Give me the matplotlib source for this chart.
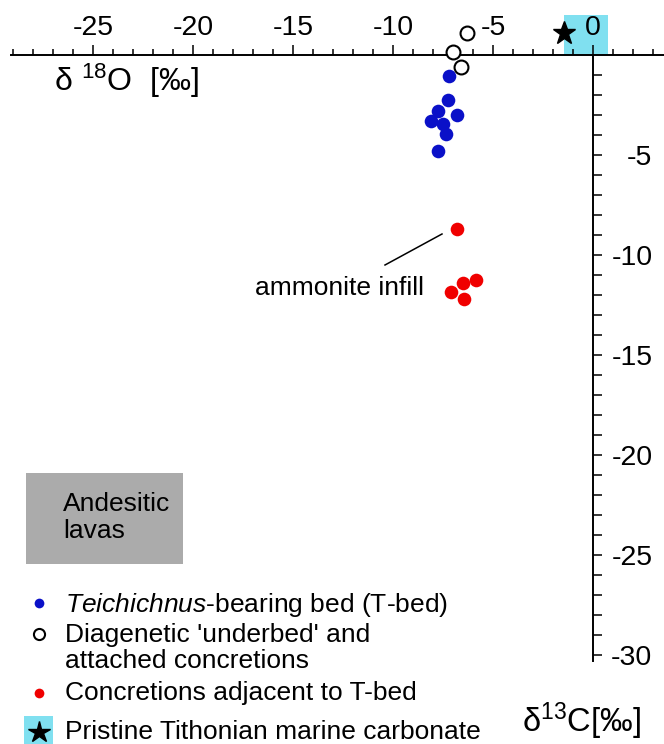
import numpy as np
import matplotlib
matplotlib.use("Agg")
import matplotlib.pyplot as plt
from matplotlib.patches import Rectangle

plt.rcParams["font.family"] = "Liberation Sans"
plt.rcParams["mathtext.fontset"] = "custom"
plt.rcParams["mathtext.rm"] = "Liberation Sans"
plt.rcParams["mathtext.it"] = "Liberation Sans:italic"
plt.rcParams["axes.unicode_minus"] = False

# Data (x = d18O, y = d13C, per mil)
tbed_d18o = [-7.2, -7.25, -7.75, -6.8, -8.1, -7.5, -7.35, -7.75]
tbed_d13c = [-1.05, -2.25, -2.8, -3.0, -3.3, -3.45, -3.95, -4.8]

underbed_d18o = [-6.3, -7.0, -6.6]
underbed_d13c = [1.1, 0.15, -0.6]

adjacent_d18o = [-6.8, -5.85, -6.5, -7.1, -6.45]
adjacent_d13c = [-8.7, -11.25, -11.4, -11.85, -12.2]

pristine_d18o = [-1.45]
pristine_d13c = [1.1]

x_ticks = [-25, -20, -15, -10, -5, 0]
y_ticks = [-5, -10, -15, -20, -25, -30]

BLUE = "#0a10c8"
RED = "#f00000"
CYAN = "#80e0f0"
GREY = "#ababab"

fig = plt.figure(figsize=(6.64, 7.44), dpi=100)
ax = fig.add_axes([0, 0, 1, 1])
ax.set_xlim(-29.65, 3.55)
ax.set_ylim(-34.45, 2.75)

# Axes through the origin
for side in ["left", "bottom"]:
    ax.spines[side].set_visible(False)
ax.spines["top"].set_position(("data", 0))
ax.spines["top"].set_bounds(-29.1, 3.55)
ax.spines["right"].set_position(("data", 0))
ax.spines["right"].set_bounds(-30.3, 0)
for side in ["top", "right"]:
    ax.spines[side].set_linewidth(1.4)
    ax.spines[side].set_zorder(3)

ax.xaxis.tick_top()
ax.yaxis.tick_right()
ax.set_xticks(x_ticks, [str(v) for v in x_ticks])
ax.set_xticks(np.arange(-29, 4), minor=True)
ax.set_yticks(y_ticks, [str(v) for v in y_ticks])
ax.set_yticks(np.arange(-30, 0), minor=True)
ax.tick_params(axis="x", which="major", direction="out", length=7.2, width=1.1, pad=3, labelsize=20.5)
ax.tick_params(axis="x", which="minor", direction="out", length=4.3, width=1.1)
ax.tick_params(axis="y", which="both", direction="out", length=6.3, width=1.1)
ax.tick_params(axis="y", which="major", pad=36.5, labelsize=20.5)
for lab in ax.get_yticklabels():
    lab.set_horizontalalignment("right")

# Pristine marine carbonate field
ax.add_patch(Rectangle((-1.45, 0), 2.2, 2.0, facecolor=CYAN, edgecolor="none", zorder=1))

# Data points
ax.plot(tbed_d18o, tbed_d13c, "o", color=BLUE, markersize=9.8, markeredgewidth=0, zorder=4)
ax.plot(underbed_d18o, underbed_d13c, "o", markerfacecolor="white", markeredgecolor="black",
        markersize=10, markeredgewidth=1.5, zorder=4)
ax.plot(adjacent_d18o, adjacent_d13c, "o", color=RED, markersize=9.8, markeredgewidth=0, zorder=4)
ax.plot(pristine_d18o, pristine_d13c, "*", color="black", markersize=17, zorder=4)

# Annotation
ax.plot([-10.4, -7.55], [-10.5, -8.95], color="black", linewidth=1.1)
ax.text(-16.9, -11.65, "ammonite infill", fontsize=19, ha="left", va="center")

# Axis titles
ax.text(-26.95, -1.3, "δ $^{18}$O  [‰]", fontsize=23, ha="left", va="center")
ax.text(-3.55, -33.3, "δ$^{13}$C[‰]", fontsize=23.5, ha="left", va="center")

# Andesitic lavas box
ax.add_patch(Rectangle((-28.35, -25.45), 7.85, 4.55, facecolor=GREY, edgecolor="none"))
ax.text(-26.5, -22.45, "Andesitic", fontsize=19, ha="left", va="center")
ax.text(-26.5, -23.8, "lavas", fontsize=19, ha="left", va="center")

# Legend
leg_x = -27.7
txt_x = -26.4
ax.plot(leg_x, -27.4, "o", color=BLUE, markersize=7, markeredgewidth=0)
ax.text(txt_x, -27.5, "$\\mathit{Teichichnus}$-bearing bed (T-bed)", fontsize=19, ha="left", va="center")
ax.plot(leg_x, -28.95, "o", markerfacecolor="white", markeredgecolor="black", markersize=8, markeredgewidth=1.5)
ax.text(txt_x, -29.0, "Diagenetic 'underbed' and", fontsize=19, ha="left", va="center")
ax.text(txt_x, -30.3, "attached concretions", fontsize=19, ha="left", va="center")
ax.plot(leg_x, -31.9, "o", color=RED, markersize=7, markeredgewidth=0)
ax.text(txt_x, -31.9, "Concretions adjacent to T-bed", fontsize=19, ha="left", va="center")
ax.add_patch(Rectangle((-28.45, -34.6), 1.45, 1.55, facecolor=CYAN, edgecolor="none"))
ax.plot(leg_x, -33.85, "*", color="black", markersize=16)
ax.text(txt_x, -33.85, "Pristine Tithonian marine carbonate", fontsize=19, ha="left", va="center")

fig.savefig("out.png", dpi=100)
